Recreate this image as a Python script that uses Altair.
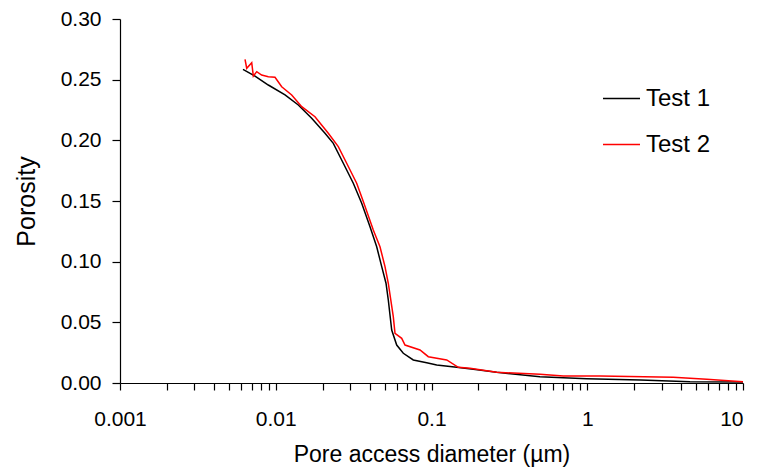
import altair as alt
import pandas as pd

# Test 1 (black)
t1_x = [0.00616, 0.00736, 0.00896, 0.01147, 0.01396, 0.01701, 0.02071, 0.02342,
        0.02715, 0.03147, 0.03563, 0.04029, 0.04448, 0.04790, 0.05104, 0.05280,
        0.05552, 0.05978, 0.06592, 0.07639, 0.09315, 0.1080, 0.1451, 0.1855,
        0.2622, 0.4972, 0.992, 2.2, 4.567, 10.0]
t1_y = [0.2585, 0.2530, 0.2456, 0.2374, 0.2291, 0.2182, 0.2058, 0.1975,
        0.1811, 0.1646, 0.1481, 0.1288, 0.1123, 0.0959, 0.0822, 0.0684,
        0.0437, 0.0313, 0.0245, 0.0190, 0.0167, 0.0148, 0.0129, 0.0113,
        0.0088, 0.0052, 0.0035, 0.0025, 0.0010, 0.0008]

# Test 2 (red)
t2_x = [0.00635, 0.00651, 0.00701, 0.00718, 0.00755, 0.00812, 0.00896, 0.00989,
        0.01092, 0.01266, 0.01468, 0.01786, 0.02175, 0.02521, 0.02854, 0.03309,
        0.03648, 0.04229, 0.04669, 0.05028, 0.05280, 0.05684, 0.05830, 0.06437,
        0.06761, 0.08437, 0.09539, 0.1252, 0.1486, 0.1767, 0.2622, 0.4972,
        0.702, 1.207, 3.568, 5.847, 10.0]
t2_y = [0.2668, 0.2594, 0.2640, 0.2530, 0.2566, 0.2538, 0.2525, 0.2520,
        0.2442, 0.2374, 0.2277, 0.2195, 0.2058, 0.1948, 0.1811, 0.1646,
        0.1495, 0.1261, 0.1123, 0.0959, 0.0822, 0.0547, 0.0410, 0.0368,
        0.0313, 0.0272, 0.0217, 0.0190, 0.0129, 0.0121, 0.0088, 0.0072,
        0.0058, 0.0058, 0.0047, 0.0030, 0.0011]

series_names = ["Test 1", "Test 2"]
series_colors = ["#000000", "#ff0000"]

x_major = [0.001, 0.01, 0.1, 1, 10]
x_multipliers = [1, 2, 3, 4, 5, 6, 7, 8, 9]
y_ticks = [0.0, 0.05, 0.10, 0.15, 0.20, 0.25, 0.30]

x_tick_values = [d * m for d in x_major[:-1] for m in x_multipliers] + [x_major[-1]]

rows = []
for i, (x, y) in enumerate(zip(t1_x, t1_y)):
    rows.append({"d": x, "p": y, "s": series_names[0], "i": i})
for i, (x, y) in enumerate(zip(t2_x, t2_y)):
    rows.append({"d": x, "p": y, "s": series_names[1], "i": i})
df = pd.DataFrame(rows)

major_str = ", ".join(str(v) for v in x_major)

chart = alt.Chart(df).mark_line(strokeWidth=1.5).encode(
    x=alt.X("d:Q",
            scale=alt.Scale(type="log", domain=[0.001, 10], nice=False),
            axis=alt.Axis(title="Pore access diameter (µm)",
                          values=x_tick_values,
                          format="~g",
                          labelExpr=f"indexof([{major_str}], datum.value) >= 0 ? datum.label : ''",
                          labelAlign={"condition": {"test": f"datum.value >= {x_major[-1]}",
                                                    "value": "right"},
                                      "value": "center"},
                          grid=False, tickSize=7, labelPadding=18,
                          labelFontSize=21, titleFontSize=23, titlePadding=14,
                          labelFlush=False, labelOverlap=False)),
    y=alt.Y("p:Q",
            scale=alt.Scale(domain=[0, 0.30], nice=False),
            axis=alt.Axis(title="Porosity", values=y_ticks, format=".2f",
                          grid=False, tickSize=8, labelPadding=11,
                          labelFontSize=21, titleFontSize=25, titlePadding=21)),
    color=alt.Color("s:N",
                    scale=alt.Scale(domain=series_names, range=series_colors),
                    legend=alt.Legend(title=None, orient="none",
                                      legendX=482, legendY=60,
                                      symbolType="stroke", symbolSize=1369,
                                      symbolStrokeWidth=1.5, labelFontSize=24,
                                      labelOffset=5, rowPadding=14, padding=0)),
    order="i:Q",
).properties(
    width=623, height=364,
    autosize=alt.AutoSizeParams(type="none"),
    padding={"left": 112, "top": 11, "right": 6, "bottom": 84},
).configure(
    font="Liberation Sans",
).configure_view(
    stroke=None,
).configure_axis(
    domainColor="#000000", tickColor="#000000",
    labelColor="#000000", titleColor="#000000",
    domainWidth=1.2, tickWidth=1.2,
    titleFontWeight="normal",
).configure_legend(
    labelColor="#000000",
)

chart.save("out.html", embed_options={"renderer": "svg", "actions": False})
